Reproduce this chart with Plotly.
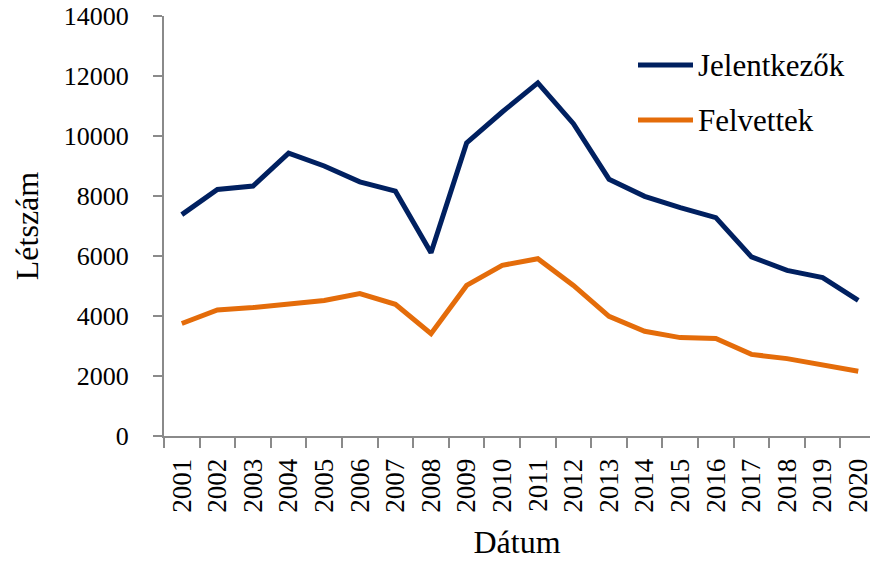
import plotly.graph_objects as go

years = [str(y) for y in range(2001, 2021)]
jelentkezok = [7380, 8220, 8330, 9430, 9000, 8470, 8160, 6110, 9770, 10800,
               11770, 10410, 8560, 7990, 7610, 7280, 5970, 5520, 5280, 4520]
felvettek = [3750, 4200, 4280, 4390, 4520, 4750, 4390, 3410, 5020, 5690,
             5910, 5020, 3990, 3490, 3280, 3250, 2720, 2580, 2390, 2160]
y_ticks = [0, 2000, 4000, 6000, 8000, 10000, 12000, 14000]
series_names = ["Jelentkezők", "Felvettek"]
colors = ["#002060", "#E46C0A"]

FONT = "Liberation Serif, DejaVu Serif, serif"
W, H = 870, 568
L, R, T, B = 164, 0, 16, 132
pw = W - L - R
ph = H - T - B

fig = go.Figure()
for name, vals, col in zip(series_names, [jelentkezok, felvettek], colors):
    fig.add_trace(go.Scatter(x=years, y=vals, name=name, mode="lines",
                             line=dict(color=col, width=5),
                             showlegend=False))

# custom legend (line samples + text)
leg_y = [65, 120]
for name, col, yy in zip(series_names, colors, leg_y):
    py = (H - B - yy) / ph
    fig.add_shape(type="line", xref="paper", yref="paper",
                  x0=(638 - L) / pw, x1=(693 - L) / pw, y0=py, y1=py,
                  line=dict(color=col, width=5))
    fig.add_annotation(xref="paper", yref="paper", x=(696 - L) / pw, y=py,
                       text=name, showarrow=False, xanchor="left",
                       yanchor="middle",
                       font=dict(family=FONT, size=31, color="#000000"))

axis_col = "#8a8a8a"
fig.update_xaxes(type="category", range=[-0.5, 19.33],
                 tickson="boundaries", ticks="outside", ticklen=10,
                 tickwidth=2, tickcolor=axis_col, showline=True,
                 linecolor=axis_col, linewidth=2, showgrid=False,
                 tickangle=-90, ticklabelstandoff=10,
                 tickfont=dict(family=FONT, size=27, color="#000000"),
                 title=dict(text="Dátum", standoff=19,
                            font=dict(family=FONT, size=32, color="#000000")),
                 automargin=False, zeroline=False)
fig.update_yaxes(range=[0, 14000], tickvals=y_ticks,
                 ticktext=[str(v) for v in y_ticks],
                 ticks="outside", ticklen=9, tickwidth=2, tickcolor=axis_col,
                 showline=True, linecolor=axis_col, linewidth=2,
                 showgrid=False, zeroline=False, ticklabelstandoff=19,
                 tickfont=dict(family=FONT, size=26, color="#000000"),
                 title=dict(text="Létszám", standoff=16,
                            font=dict(family=FONT, size=32, color="#000000")),
                 automargin=False)

fig.update_layout(width=W, height=H,
                  margin=dict(l=L, r=R, t=T, b=B, pad=0),
                  plot_bgcolor="white", paper_bgcolor="white",
                  font=dict(family=FONT, color="#000000"))

fig.write_html("out.html", config={"displayModeBar": False},
               post_script="document.body.style.margin='0px';"
                           "document.body.style.overflow='hidden';")
